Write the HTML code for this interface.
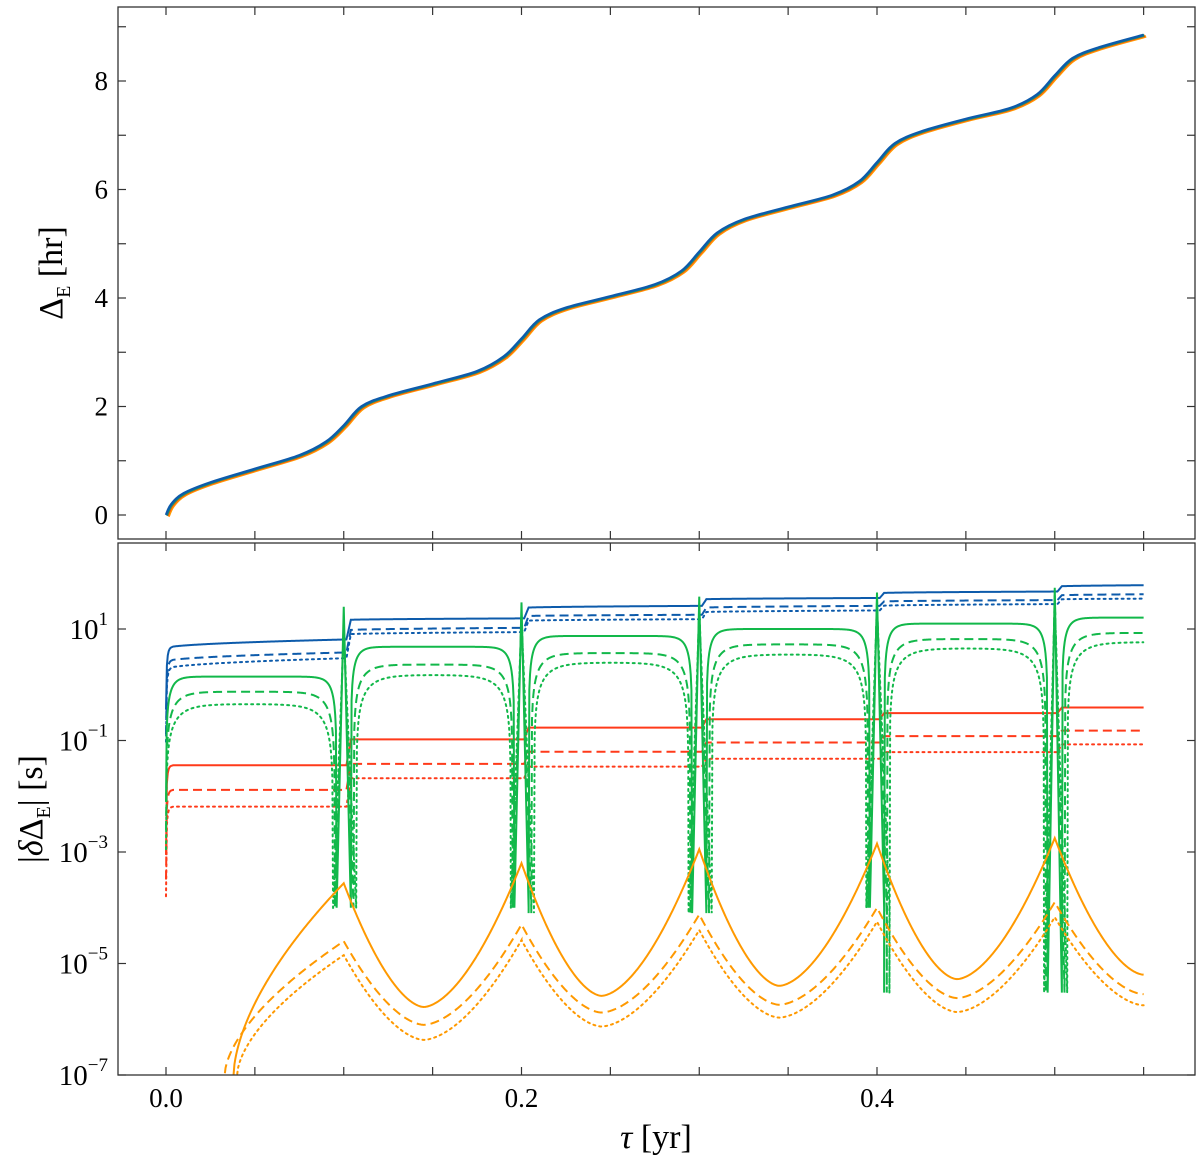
<!DOCTYPE html>
<html><head><meta charset="utf-8"><style>
body{margin:0;background:#fff;}
svg{display:block;font-family:"Liberation Serif","DejaVu Serif",serif;}
</style></head><body>
<svg id="fig" width="1200" height="1162" viewBox="0 0 1200 1162">
<defs>
<clipPath id="ctop"><rect x="118" y="7" width="1077" height="532"/></clipPath>
<clipPath id="cbot"><rect x="118" y="543" width="1077" height="532"/></clipPath>
</defs>
<g id="topLines" clip-path="url(#ctop)"></g>
<g id="botLines" clip-path="url(#cbot)"></g>
<rect x="118" y="7" width="1077" height="532" fill="none" stroke="#333" stroke-width="1.3"/>
<rect x="118" y="543" width="1077" height="532" fill="none" stroke="#333" stroke-width="1.3"/>
<g id="axes"></g>
<text x="0" y="0" transform="translate(62,273) rotate(-90)" text-anchor="middle" font-size="34">Δ<tspan font-size="20" dy="8">E</tspan><tspan dy="-8"> [hr]</tspan></text>
<text x="0" y="0" transform="translate(42,809) rotate(-90)" text-anchor="middle" font-size="34">|<tspan font-style="italic">δ</tspan>Δ<tspan font-size="20" dy="8">E</tspan><tspan dy="-8">| [s]</tspan></text>
<text x="656" y="1148" text-anchor="middle" font-size="34"><tspan font-style="italic">τ</tspan> [yr]</text>
</svg>
<script>
// ---------- data ----------
const topTau = [0,0.003,0.01,0.025,0.05,0.075,0.09,0.1,0.11,0.125,0.15,0.175,0.19,0.2,0.21,0.225,0.25,0.275,0.29,0.3,0.31,0.325,0.35,0.375,0.39,0.4,0.41,0.425,0.45,0.475,0.49,0.5,0.51,0.525,0.55];
const topDelta = [0,0.2,0.4,0.6,0.85,1.1,1.35,1.65,2.0,2.2,2.42,2.65,2.92,3.25,3.6,3.82,4.03,4.25,4.5,4.85,5.2,5.45,5.68,5.9,6.15,6.5,6.85,7.07,7.3,7.5,7.75,8.1,8.42,8.62,8.85];
const stepTimes = [0.1,0.2,0.3,0.4,0.5];
const tauEnd = 0.55;
const blueSolidStart = [4.5,14.5,24,34,44,58];
const blueSolidEnd = [6.5,15.5,26,36,47,61];
const blueDashStart = [2.6,9.5,17,24,31,40];
const blueDashEnd = [3.8,10.5,18,26,33,42];
const blueDotStart = [1.9,8,14,20,26,34];
const blueDotEnd = [3.0,8.8,15,21.5,28,35];
const redSolid = [0.036,0.105,0.17,0.24,0.31,0.39];
const redDash = [0.013,0.038,0.063,0.092,0.12,0.15];
const redDot = [0.0065,0.021,0.034,0.047,0.062,0.085];
const greenSolid = [1.4,4.8,7.5,10,12.5,16];
const greenDash = [0.75,2.3,3.7,5.3,6.6,8.5];
const greenDot = [0.45,1.5,2.5,3.5,4.5,5.8];
const greenSpikeSolid = [25,30,38,45,55];
const greenSpikeDash = [12,20,26,32,40];
const greenSpikeDot = [9,15,20,25,32];
const greenDipMin = [1e-4,1e-4,8e-5,1e-4,3e-6];
const orangeSolidPeaks = [-3.56,-3.2,-2.95,-2.85,-2.75];
const orangeSolidMins = [-5.78,-5.58,-5.4,-5.28];
const orangeDashPeaks = [-4.6,-4.3,-4.12,-4.0,-3.9];
const orangeDashMins = [-6.1,-5.88,-5.74,-5.62];
const orangeDotPeaks = [-4.85,-4.58,-4.4,-4.25,-4.17];
const orangeDotMins = [-6.37,-6.13,-5.97,-5.87];
const orangeEnd = [-5.2,-5.55,-5.75];
const orangeCross = [0.038,0.033,0.04];
const xTickLabels = ["0.0","0.2","0.4"];
const topYTicks = [0,2,4,6,8];
const botYTicks = [1,-1,-3,-5,-7];

// ---------- axes ----------
const xs = t => 166 + t*1777.5;
const yt = v => 515 - v*54.25;
const yl = lg => 629 - (lg-1)*55.75;
const NS='http://www.w3.org/2000/svg';
function mk(tag, attrs, parent){const e=document.createElementNS(NS,tag);for(const k in attrs)e.setAttribute(k,attrs[k]);parent.appendChild(e);return e;}
const axes=document.getElementById('axes');
for(let i=0;i<=11;i++){const t=i*0.05, x=xs(t);
  for(const [y0,y1] of [[7,15],[539,531],[543,551],[1075,1067]]){
    const l=mk('line',{x1:x,x2:x,y1:y0,y2:y1,stroke:'#333','stroke-width':1.2},axes);
    
    
  }}
xTickLabels.forEach((s,i)=>{const tx=mk('text',{x:xs(i*0.2),y:1107,'text-anchor':'middle','font-size':27},axes);tx.textContent=s;
  
  });
for(let v=0;v<=9;v++){const y=yt(v);
  for(const [x0,x1] of [[118,126],[1195,1187]]){const l=mk('line',{x1:x0,x2:x1,y1:y,y2:y,stroke:'#333','stroke-width':1.2},axes);
    
    }}
topYTicks.forEach(v=>{const tx=mk('text',{x:108,y:yt(v)+9,'text-anchor':'end','font-size':27},axes);tx.textContent=String(v);
  
  });
botYTicks.forEach(lg=>{const y=yl(lg);
  for(const [x0,x1] of [[118,126],[1195,1187]]){const l=mk('line',{x1:x0,x2:x1,y1:y,y2:y,stroke:'#333','stroke-width':1.2},axes);
    
    }
  const tx=mk('text',{x:108,y:y+10,'text-anchor':'end','font-size':29},axes);
  
  
  tx.innerHTML='10<tspan font-size="19" dy="-14">'+(lg<0?'−'+(-lg):lg)+'</tspan>';});

// ---------- top panel ----------
const topG=document.getElementById('topLines');
function smoothPath(px,py){let d='M'+px[0]+','+py[0];
  for(let i=0;i<px.length-1;i++){const p0=[px[Math.max(0,i-1)],py[Math.max(0,i-1)]],p1=[px[i],py[i]],p2=[px[i+1],py[i+1]],p3=[px[Math.min(px.length-1,i+2)],py[Math.min(px.length-1,i+2)]];
    const c1=[p1[0]+(p2[0]-p0[0])/6,p1[1]+(p2[1]-p0[1])/6],c2=[p2[0]-(p3[0]-p1[0])/6,p2[1]-(p3[1]-p1[1])/6];
    d+=' C'+c1[0].toFixed(2)+','+c1[1].toFixed(2)+' '+c2[0].toFixed(2)+','+c2[1].toFixed(2)+' '+p2[0].toFixed(2)+','+p2[1].toFixed(2);}
  return d;}
[['#ff9900',2.5,1.5,'top-curve-orange'],['#ff3a1a',1.2,0.8,'top-curve-red'],['#12b84a',0.6,0.4,'top-curve-green'],['#0d5bab',0,0,'top-curve-blue']].forEach(([c,dx,dy,n])=>{
  const p=mk('path',{d:smoothPath(topTau.map(t=>xs(t)+dx),topDelta.map(v=>yt(v)+dy)),fill:'none',stroke:c,'stroke-width':2.6},topG);
  
  });

// ---------- bottom panel ----------
const botG=document.getElementById('botLines');
const L10=Math.log10;
function segIndex(t){let k=0;for(const s of stepTimes){if(t>=s+0.002)k++;}return k;}
function pathFrom(pts){return pts.filter(p=>isFinite(p[1])).map((p,i)=>(i?'L':'M')+xs(p[0]).toFixed(2)+','+yl(Math.max(-9,p[1])).toFixed(2)).join(' ');}
function dash(style){return style==='dash'?'9,5':style==='dot'?'2,4':'none';}
function draw(pts,color,style,name){const p=mk('path',{d:pathFrom(pts),fill:'none',stroke:color,'stroke-width':2,'stroke-dasharray':dash(style),'stroke-linecap':style==='dot'?'round':'butt'},botG);
  
  }
// blue & red: stepped plateaus
function stepped(st,en,floor){const pts=[];
  for(let t=0;t<=tauEnd+1e-9;t+=0.0005){const k=segIndex(t);const a=k===0?0:stepTimes[k-1]+0.002;const b=k<stepTimes.length?stepTimes[k]+0.002:tauEnd;
    const f=Math.sqrt(Math.max(0,(t-a)/(b-a)));let lg=L10(st[k])+(L10(en[k])-L10(st[k]))*f;
    if(k>0&&t<a+0.002){const prev=L10(en[k-1]);lg=prev+(lg-prev)*(t-a+0.0005)/0.0025;}
    if(t<0.004){lg+=L10(Math.max(floor,1-Math.exp(-(t+0.00002)/0.0008)));}
    pts.push([t,lg]);}
  return pts;}
draw(stepped(blueSolidStart,blueSolidEnd,0.08),'#0d5bab','solid','blue-solid');
draw(stepped(blueDashStart,blueDashEnd,0.05),'#0d5bab','dash','blue-dashed');
draw(stepped(blueDotStart,blueDotEnd,0.05),'#0d5bab','dot','blue-dotted');
draw(stepped(redSolid,redSolid,0.01),'#ff3a1a','solid','red-solid');
draw(stepped(redDash,redDash,8e-4),'#ff3a1a','dash','red-dashed');
draw(stepped(redDot,redDot,0.01),'#ff3a1a','dot','red-dotted');
// green: plateaus with dips around steps and a spike
function green(lev,spk,dl,dr,w){const pts=[];const zeros=[];
  stepTimes.forEach(s=>zeros.push([s-dl,s+dr]));
  let a=0;
  for(let k=0;k<=stepTimes.length;k++){const b=k<stepTimes.length?zeros[k][0]:null;const end=b===null?tauEnd:b;
    for(let t=a;t<=end+1e-9;t+=0.0004){const dA=Math.max(0,t-a)+(k===0?0.00002:0);const dB=b===null?1:Math.max(0,end-t);
      let v=lev[k]*(1-Math.exp(-dA/w))*(1-Math.exp(-dB/w));pts.push([t,L10(Math.max(v,greenDipMin[Math.min(k,4)]))]);}
    if(b!==null){pts.push([b,L10(greenDipMin[k])]);pts.push([stepTimes[k],L10(spk[k])]);pts.push([zeros[k][1],L10(greenDipMin[k])]);a=zeros[k][1];}
  }
  return pts;}
draw(green(greenSolid,greenSpikeSolid,0.004,0.004,0.0035),'#12b84a','solid','green-solid');
draw(green(greenDash,greenSpikeDash,0.005,0.0055,0.006),'#12b84a','dash','green-dashed');
draw(green(greenDot,greenSpikeDot,0.006,0.007,0.008),'#12b84a','dot','green-dotted');
// orange: cusped peaks at steps, rounded minima between
function orange(peaks,mins,endv,cross){const pts=[];const kx=1.7;
  for(let t=0.015;t<=0.1+1e-9;t+=0.0005){const u=Math.max(0,(t-cross)/(0.1-cross));pts.push([t,t<cross?-7-(cross-t)*60:-7+(peaks[0]+7)*Math.pow(u,0.6)]);}
  for(let k=0;k<stepTimes.length;k++){const tp=stepTimes[k];const tm=k<mins.length?tp+0.045:tauEnd;const M=k<mins.length?mins[k]:endv;
    const tn=k+1<stepTimes.length?stepTimes[k+1]:null;
    for(let t=tp;t<=tm+1e-9;t+=0.0005){pts.push([t,M+(peaks[k]-M)*Math.pow(Math.max(0,(tm-t)/(tm-tp)),kx)]);}
    if(tn!==null){for(let t=tm;t<=tn+1e-9;t+=0.0005){pts.push([t,M+(peaks[k+1]-M)*Math.pow(Math.max(0,(t-tm)/(tn-tm)),kx)]);}}
  }
  return pts;}
draw(orange(orangeSolidPeaks,orangeSolidMins,orangeEnd[0],orangeCross[0]),'#ff9900','solid','orange-solid');
draw(orange(orangeDashPeaks,orangeDashMins,orangeEnd[1],orangeCross[1]),'#ff9900','dash','orange-dashed');
draw(orange(orangeDotPeaks,orangeDotMins,orangeEnd[2],orangeCross[2]),'#ff9900','dot','orange-dotted');
</script>
</body></html>
